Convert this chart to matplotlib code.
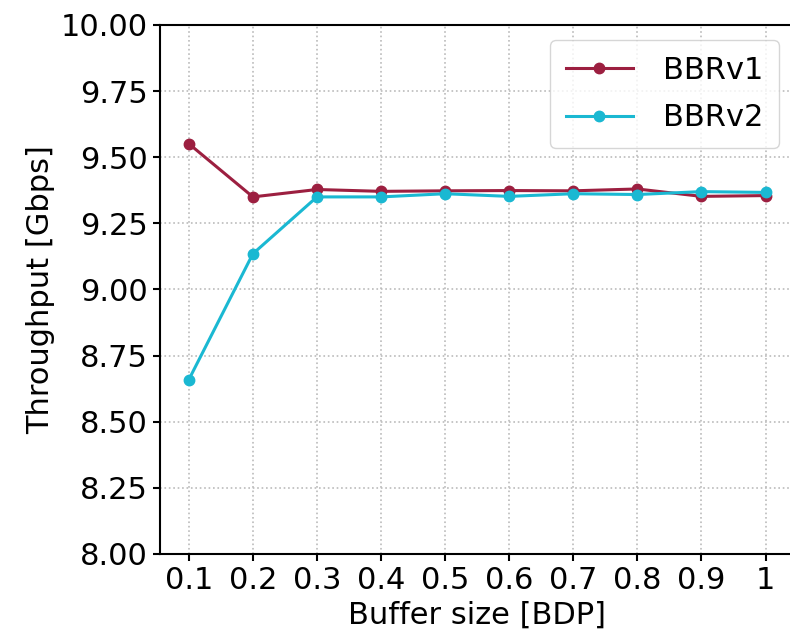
import matplotlib
matplotlib.use("Agg")
import matplotlib.pyplot as plt

buffer_sizes = [0.1, 0.2, 0.3, 0.4, 0.5, 0.6, 0.7, 0.8, 0.9, 1.0]
x_labels = ["0.1", "0.2", "0.3", "0.4", "0.5", "0.6", "0.7", "0.8", "0.9", "1"]
bbrv1 = [9.551, 9.350, 9.378, 9.371, 9.373, 9.374, 9.373, 9.380, 9.352, 9.355]
bbrv2 = [8.659, 9.135, 9.350, 9.350, 9.362, 9.352, 9.362, 9.359, 9.370, 9.367]
y_ticks = [8.00, 8.25, 8.50, 8.75, 9.00, 9.25, 9.50, 9.75, 10.00]

plt.rcParams['font.family'] = ['DejaVu Sans']
fig = plt.figure(figsize=(7.9, 6.37), dpi=100)
ax = fig.add_axes([0.2025, 0.1303, 0.803, 0.8305])

ax.plot(buffer_sizes, bbrv1, color='#9c1f40', marker='o', markersize=7.5, linewidth=2.2, label='BBRv1')
ax.plot(buffer_sizes, bbrv2, color='#1ab8d2', marker='o', markersize=7.5, linewidth=2.2, label='BBRv2')

ax.set_ylim(8.0, 10.0)
ax.set_xlim(0.055, 1.045)
ax.set_yticks(y_ticks)
ax.set_yticklabels([f"{v:.2f}" for v in y_ticks])
ax.set_xticks(buffer_sizes)
ax.set_xticklabels(x_labels)
ax.tick_params(labelsize=22, width=1.5, length=5)
for s in ax.spines.values():
    s.set_linewidth(1.5)
ax.grid(True, linestyle=':', color='#bbbbbb', linewidth=1.2)
ax.set_xlabel('Buffer size [BDP]', fontsize=22, labelpad=4)
ax.set_ylabel('Throughput [Gbps]', fontsize=22)
ax.legend(loc='upper right', fontsize=22, handlelength=2.2, labelspacing=0.62,
          handletextpad=1.0, borderpad=0.5)

fig.savefig('out.png', dpi=100)
